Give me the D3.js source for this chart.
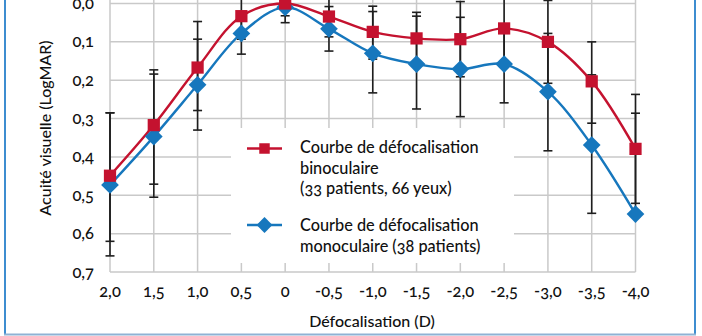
<!DOCTYPE html>
<html>
<head>
<meta charset="utf-8">
<script src="https://d3js.org/d3.v7.min.js"></script>
<style>
  body { margin: 0; background: #fff; }
  svg text { font-family: Lato, "Noto Sans", sans-serif; font-weight: 500; font-variant-numeric: oldstyle-nums; fill: #111; }
</style>
</head>
<body>
<svg width="702" height="336"></svg>
<script>
// defocus steps (D) and acuity in LogMAR, error bar ends as low/high values
var categories = ["2,0", "1,5", "1,0", "0,5", "0", "-0,5", "-1,0", "-1,5", "-2,0", "-2,5", "-3,0", "-3,5", "-4,0"];
var yTicks = [0, 0.1, 0.2, 0.3, 0.4, 0.5, 0.6, 0.7];

var binoValues = [0.449, 0.317, 0.167, 0.033, 0.000, 0.034, 0.074, 0.091, 0.093, 0.065, 0.100, 0.203, 0.379];
var binoLow    = [0.285, 0.173, 0.047, -0.027, -0.032, -0.019, 0.007, 0.023, -0.005, -0.020, -0.008, 0.100, 0.237];
var binoHigh   = [0.620, 0.471, 0.279, 0.093, 0.032, 0.087, 0.145, 0.159, 0.191, 0.150, 0.208, 0.312, 0.521];

var monoValues = [0.473, 0.347, 0.212, 0.078, 0.010, 0.066, 0.130, 0.158, 0.171, 0.158, 0.230, 0.369, 0.549];
var monoLow    = [0.285, 0.184, 0.093, 0.024, -0.030, 0.008, 0.021, 0.033, 0.036, 0.057, 0.078, 0.186, 0.286];
var monoHigh   = [0.658, 0.505, 0.330, 0.132, 0.050, 0.124, 0.233, 0.275, 0.295, 0.259, 0.384, 0.547, 0.549];

var legendBino = ["Courbe de défocalisation", "binoculaire", "(33 patients, 66 yeux)"];
var legendMono = ["Courbe de défocalisation", "monoculaire (38 patients)"];

var red = "#c4122f", blue = "#1677bd", grid = "#c9c9c9";

var svg = d3.select("svg");

var x = d3.scalePoint().domain(categories).range([110, 635.5]);
var y = d3.scaleLinear().domain([0, 0.7]).range([3.5, 272]);
var fmt = function(v) { return d3.format(".1f")(v).replace(".", ","); };

// outer frame
svg.append("line").attr("x1", 5).attr("x2", 5).attr("y1", 0).attr("y2", 335)
    .attr("stroke", "#3d8dd0").attr("stroke-width", 2);
svg.append("line").attr("x1", 695).attr("x2", 695).attr("y1", 0).attr("y2", 335)
    .attr("stroke", "#3d8dd0").attr("stroke-width", 2);
svg.append("line").attr("x1", 4).attr("x2", 696).attr("y1", 334.5).attr("y2", 334.5)
    .attr("stroke", "#8fb2d4").attr("stroke-width", 2);

// grid
var g = svg.append("g");
g.selectAll(".hg").data(yTicks).enter().append("line")
    .attr("x1", x.range()[0]).attr("x2", x.range()[1])
    .attr("y1", function(d) { return y(d); }).attr("y2", function(d) { return y(d); })
    .attr("stroke", grid).attr("stroke-width", 1.5);
g.selectAll(".vg").data(categories).enter().append("line")
    .attr("x1", function(d) { return x(d); }).attr("x2", function(d) { return x(d); })
    .attr("y1", 0).attr("y2", y(0.7))
    .attr("stroke", grid).attr("stroke-width", 1.5);

// legend background hides the grid behind it
svg.append("rect").attr("x", 231).attr("y", 128).attr("width", 283).attr("height", 135).attr("fill", "#fff");

// axis labels
svg.append("g").selectAll("text").data(yTicks).enter().append("text")
    .attr("x", 94).attr("y", function(d) { return y(d) + 5.5; })
    .attr("text-anchor", "end").attr("font-size", 16.5)
    .text(fmt);
svg.append("g").selectAll("text").data(categories).enter().append("text")
    .attr("x", function(d) { return x(d); }).attr("y", 297)
    .attr("text-anchor", "middle").attr("font-size", 16.5)
    .text(function(d) { return d; });

svg.append("text").attr("transform", "translate(51,128) rotate(-90)")
    .attr("text-anchor", "middle").attr("font-size", 16)
    .text("Acuité visuelle (LogMAR)");
svg.append("text").attr("x", 372).attr("y", 327)
    .attr("text-anchor", "middle").attr("font-size", 16)
    .text("Défocalisation (D)");

// error bars
function errorBars(low, high) {
  var eb = svg.append("g").attr("stroke", "#1e1e1e").attr("stroke-width", 1.6);
  categories.forEach(function(c, i) {
    var cx = x(c);
    eb.append("line").attr("x1", cx).attr("x2", cx).attr("y1", y(low[i])).attr("y2", y(high[i]));
    [low[i], high[i]].forEach(function(v) {
      eb.append("line").attr("x1", cx - 4.5).attr("x2", cx + 4.5).attr("y1", y(v)).attr("y2", y(v));
    });
  });
}
errorBars(binoLow, binoHigh);
errorBars(monoLow, monoHigh);

var line = d3.line()
    .x(function(d, i) { return x(categories[i]); })
    .y(function(d) { return y(d); })
    .curve(d3.curveCatmullRom.alpha(0.5));

svg.append("path").datum(monoValues).attr("d", line)
    .attr("fill", "none").attr("stroke", blue).attr("stroke-width", 2.4);
svg.append("path").datum(binoValues).attr("d", line)
    .attr("fill", "none").attr("stroke", red).attr("stroke-width", 2.4);

var square = d3.symbol().type(d3.symbolSquare).size(150);
var diamond = d3.symbol().type(d3.symbolDiamond2).size(200);

svg.append("g").selectAll("path").data(monoValues).enter().append("path")
    .attr("d", diamond)
    .attr("transform", function(d, i) { return "translate(" + x(categories[i]) + "," + y(d) + ")"; })
    .attr("fill", blue);
svg.append("g").selectAll("path").data(binoValues).enter().append("path")
    .attr("d", square)
    .attr("transform", function(d, i) { return "translate(" + x(categories[i]) + "," + y(d) + ")"; })
    .attr("fill", red);

// legend
var lg = svg.append("g");
lg.append("line").attr("x1", 247).attr("x2", 282).attr("y1", 148.5).attr("y2", 148.5)
    .attr("stroke", red).attr("stroke-width", 2.4);
lg.append("path").attr("d", d3.symbol().type(d3.symbolSquare).size(110))
    .attr("transform", "translate(264.5,148.5)").attr("fill", red);
lg.append("line").attr("x1", 247).attr("x2", 282).attr("y1", 225).attr("y2", 225)
    .attr("stroke", blue).attr("stroke-width", 2.4);
lg.append("path").attr("d", d3.symbol().type(d3.symbolDiamond2).size(160))
    .attr("transform", "translate(264.5,225)").attr("fill", blue);

lg.selectAll(".lb").data(legendBino).enter().append("text")
    .attr("x", 300).attr("y", function(d, i) { return 153 + i * 20.7; })
    .attr("font-size", 16.3).text(function(d) { return d; });
lg.selectAll(".lm").data(legendMono).enter().append("text")
    .attr("x", 300).attr("y", function(d, i) { return 231 + i * 20.7; })
    .attr("font-size", 16.3).text(function(d) { return d; });
</script>
</body>
</html>
